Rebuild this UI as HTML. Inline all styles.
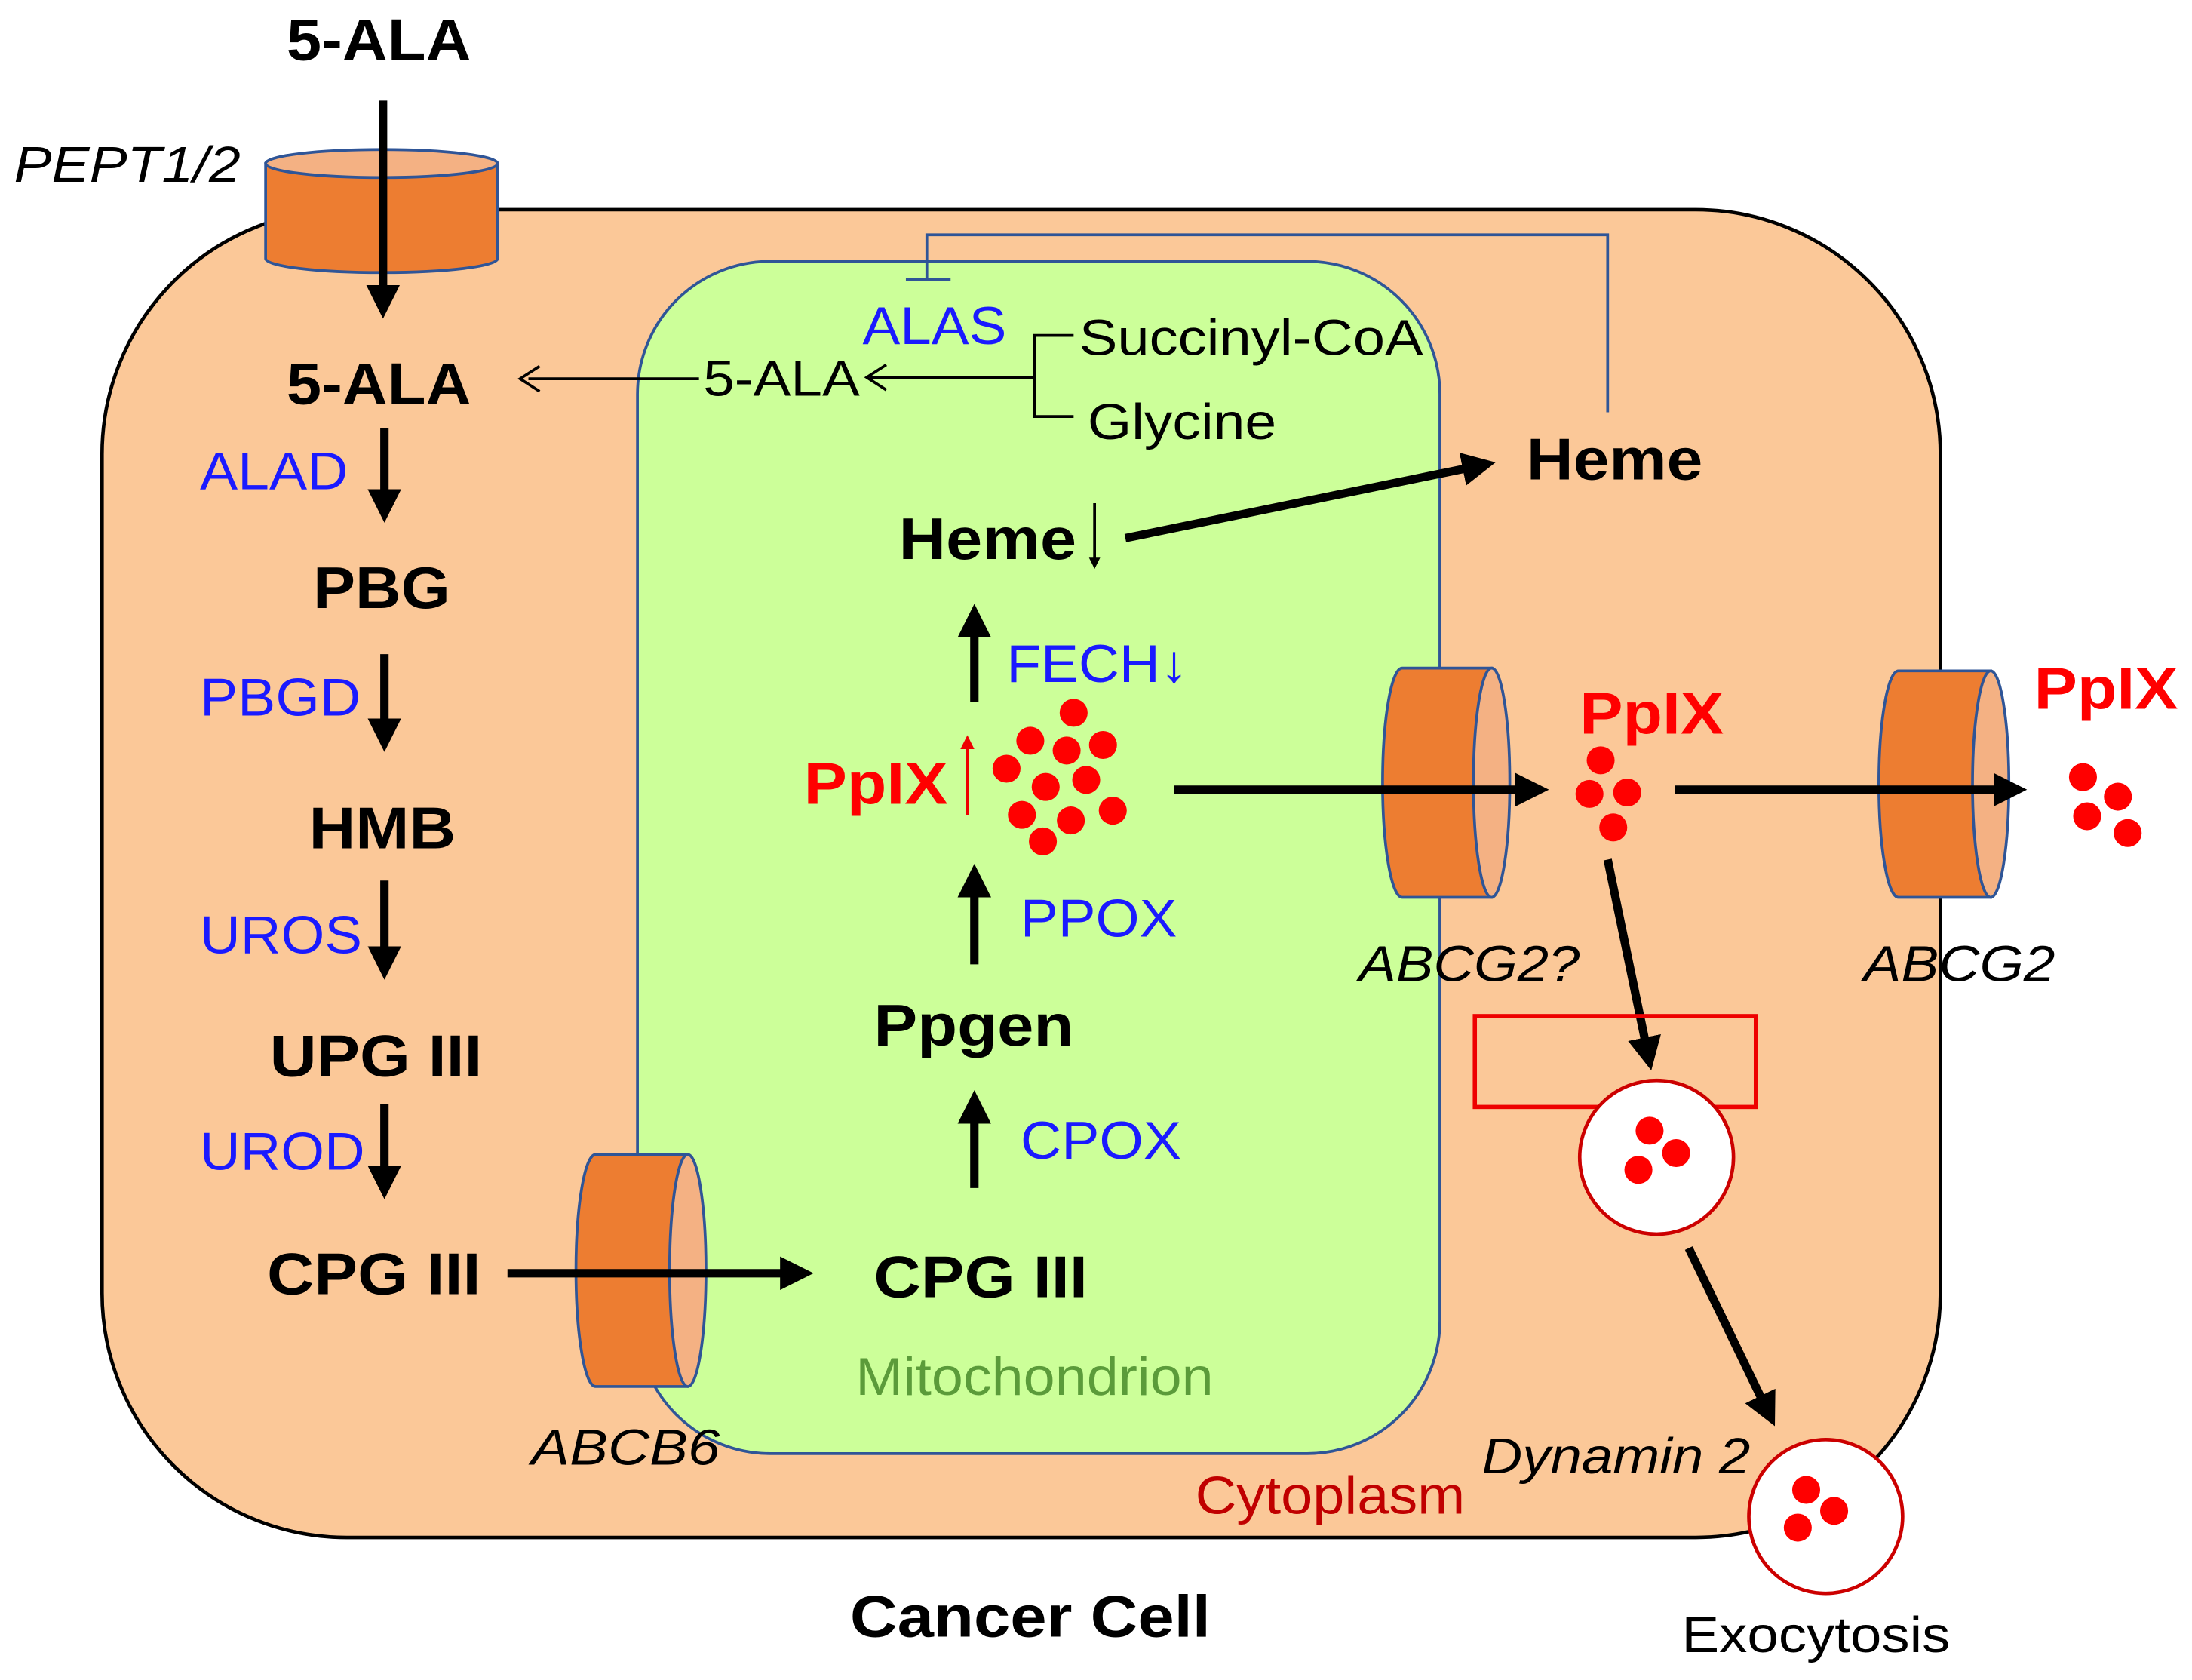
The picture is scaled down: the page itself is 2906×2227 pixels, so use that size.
<!DOCTYPE html>
<html><head><meta charset="utf-8"><style>html,body{margin:0;padding:0;background:#fff}svg{display:block}</style></head>
<body>
<svg width="2906" height="2227" viewBox="0 0 1568 1202" preserveAspectRatio="none" xmlns="http://www.w3.org/2000/svg" font-family="Liberation Sans, Arial, sans-serif">
<defs>
<marker id="ah" markerWidth="4" markerHeight="4" refX="3" refY="2" orient="auto" markerUnits="strokeWidth"><path d="M0,0 L4,2 L0,4 z" fill="#000"/></marker>
<marker id="ahr" markerWidth="5" markerHeight="5" refX="4" refY="2.5" orient="auto" markerUnits="strokeWidth"><path d="M0,0 L5,2.5 L0,5 z" fill="#e00"/></marker>
</defs>
<rect x="73" y="150" width="1315" height="950" rx="175" fill="#FBC898" stroke="#000" stroke-width="2.5"/>
<rect x="456" y="187" width="574" height="853" rx="95" fill="#CCFF99" stroke="#2F5597" stroke-width="2"/>
<path d="M190,117 L190,185 A83,10 0 0 0 356,185 L356,117 z" fill="#ED7D31" stroke="#2F5597" stroke-width="2"/>
<ellipse cx="273" cy="117" rx="83" ry="10" fill="#F4B183" stroke="#2F5597" stroke-width="2"/>
<g stroke="#2F5597" stroke-width="2">
<path d="M1067,478 L1003,478 A14,82 0 0 0 1003,642 L1067,642 z" fill="#ED7D31"/>
<ellipse cx="1067" cy="560" rx="13" ry="82" fill="#F4B183"/>
<path d="M1424,480 L1358,480 A14,81 0 0 0 1358,642 L1424,642 z" fill="#ED7D31"/>
<ellipse cx="1424" cy="561" rx="13" ry="81" fill="#F4B183"/>
<path d="M492,826 L426,826 A14,83 0 0 0 426,992 L492,992 z" fill="#ED7D31"/>
<ellipse cx="492" cy="909" rx="13" ry="83" fill="#F4B183"/>
</g>
<g stroke="#000" stroke-width="6" fill="none">
<line x1="274" y1="72" x2="274" y2="222" marker-end="url(#ah)"/>
<line x1="275" y1="306" x2="275" y2="368" marker-end="url(#ah)"/>
<line x1="275" y1="468" x2="275" y2="532" marker-end="url(#ah)"/>
<line x1="275" y1="630" x2="275" y2="695" marker-end="url(#ah)"/>
<line x1="275" y1="790" x2="275" y2="852" marker-end="url(#ah)"/>
<line x1="363" y1="911" x2="576" y2="911" marker-end="url(#ah)"/>
<line x1="697" y1="850" x2="697" y2="786" marker-end="url(#ah)"/>
<line x1="697" y1="690" x2="697" y2="624" marker-end="url(#ah)"/>
<line x1="697" y1="502" x2="697" y2="438" marker-end="url(#ah)"/>
<line x1="805" y1="385" x2="1064" y2="332" marker-end="url(#ah)"/>
<line x1="840" y1="565" x2="1102" y2="565" marker-end="url(#ah)"/>
<line x1="1198" y1="565" x2="1444" y2="565" marker-end="url(#ah)"/>
<line x1="1150" y1="615" x2="1180" y2="760" marker-end="url(#ah)"/>
<line x1="1208" y1="893" x2="1267" y2="1015" marker-end="url(#ah)"/>
</g>
<g stroke="#000" stroke-width="2" fill="none">
<line x1="783" y1="360" x2="783" y2="405" marker-end="url(#ah)"/>
<line x1="500" y1="271" x2="378" y2="271"/><path d="M386,262 L372,271 L386,280"/>
<line x1="740" y1="270" x2="622" y2="270"/><path d="M634,261 L620,270 L634,279"/>
<path d="M768,240 L740,240 L740,298 L768,298"/>
</g>
<line x1="692" y1="583" x2="692" y2="528" stroke="#e00" stroke-width="2" marker-end="url(#ahr)"/>
<path d="M1150,295 L1150,168 L663,168 L663,200 M648,200 L680,200" stroke="#2F5597" stroke-width="2" fill="none"/>
<rect x="1055" y="727" width="201" height="65" fill="none" stroke="#e00" stroke-width="3"/>
<circle cx="1185" cy="828" r="55" fill="#fff" stroke="#c00" stroke-width="2.5"/>
<circle cx="1306" cy="1085" r="55" fill="#fff" stroke="#c00" stroke-width="2.5"/>
<g fill="#f00">
<circle cx="768" cy="510" r="10"/><circle cx="737" cy="530" r="10"/><circle cx="763" cy="537" r="10"/><circle cx="789" cy="533" r="10"/>
<circle cx="720" cy="550" r="10"/><circle cx="748" cy="563" r="10"/><circle cx="777" cy="558" r="10"/><circle cx="731" cy="583" r="10"/>
<circle cx="766" cy="587" r="10"/><circle cx="796" cy="580" r="10"/><circle cx="746" cy="602" r="10"/>
<circle cx="1145" cy="544" r="10"/><circle cx="1137" cy="568" r="10"/><circle cx="1164" cy="567" r="10"/><circle cx="1154" cy="592" r="10"/>
<circle cx="1490" cy="556" r="10"/><circle cx="1515" cy="570" r="10"/><circle cx="1493" cy="584" r="10"/><circle cx="1522" cy="596" r="10"/>
<circle cx="1180" cy="809" r="10"/><circle cx="1199" cy="825" r="10"/><circle cx="1172" cy="837" r="10"/>
<circle cx="1292" cy="1066" r="10"/><circle cx="1312" cy="1081" r="10"/><circle cx="1286" cy="1093" r="10"/>
</g>
<g font-weight="bold" font-size="42" fill="#000" lengthAdjust="spacingAndGlyphs">
<text x="205" y="43" textLength="132" lengthAdjust="spacingAndGlyphs">5-ALA</text>
<text x="205" y="289" textLength="132" lengthAdjust="spacingAndGlyphs">5-ALA</text>
<text x="224" y="435" textLength="98" lengthAdjust="spacingAndGlyphs">PBG</text>
<text x="221" y="607" textLength="105" lengthAdjust="spacingAndGlyphs">HMB</text>
<text x="193" y="770" textLength="152" lengthAdjust="spacingAndGlyphs">UPG III</text>
<text x="191" y="926" textLength="153" lengthAdjust="spacingAndGlyphs">CPG III</text>
<text x="625" y="928" textLength="153" lengthAdjust="spacingAndGlyphs">CPG III</text>
<text x="625" y="748" textLength="143" lengthAdjust="spacingAndGlyphs">Ppgen</text>
<text x="643" y="400" textLength="127" lengthAdjust="spacingAndGlyphs">Heme</text>
<text x="1092" y="343" textLength="126" lengthAdjust="spacingAndGlyphs">Heme</text>
<text x="608" y="1171" textLength="258" lengthAdjust="spacingAndGlyphs">Cancer Cell</text>
</g>
<g font-weight="bold" font-size="42" fill="#f00">
<text x="575" y="575" textLength="103" lengthAdjust="spacingAndGlyphs">PpIX</text>
<text x="1130" y="525" textLength="103" lengthAdjust="spacingAndGlyphs">PpIX</text>
<text x="1455" y="507" textLength="103" lengthAdjust="spacingAndGlyphs">PpIX</text>
</g>
<g font-size="38" fill="#1a1aff">
<text x="143" y="350" textLength="106" lengthAdjust="spacingAndGlyphs">ALAD</text>
<text x="143" y="512" textLength="115" lengthAdjust="spacingAndGlyphs">PBGD</text>
<text x="143" y="682" textLength="116" lengthAdjust="spacingAndGlyphs">UROS</text>
<text x="143" y="837" textLength="118" lengthAdjust="spacingAndGlyphs">UROD</text>
<text x="730" y="829" textLength="115" lengthAdjust="spacingAndGlyphs">CPOX</text>
<text x="730" y="670" textLength="112" lengthAdjust="spacingAndGlyphs">PPOX</text>
<text x="720" y="488" textLength="130" lengthAdjust="spacingAndGlyphs">FECH↓</text>
<text x="617" y="246" textLength="103" lengthAdjust="spacingAndGlyphs">ALAS</text>
</g>
<g font-size="36" fill="#000">
<text x="503" y="283" textLength="112" lengthAdjust="spacingAndGlyphs">5-ALA</text>
<text x="772" y="254" textLength="246" lengthAdjust="spacingAndGlyphs">Succinyl-CoA</text>
<text x="778" y="314" textLength="135" lengthAdjust="spacingAndGlyphs">Glycine</text>
<text x="1203" y="1182" textLength="192" lengthAdjust="spacingAndGlyphs">Exocytosis</text>
</g>
<g font-size="36" font-style="italic" fill="#000">
<text x="10" y="130" textLength="162" lengthAdjust="spacingAndGlyphs">PEPT1/2</text>
<text x="972" y="702" textLength="158" lengthAdjust="spacingAndGlyphs">ABCG2?</text>
<text x="1333" y="702" textLength="137" lengthAdjust="spacingAndGlyphs">ABCG2</text>
<text x="380" y="1048" textLength="135" lengthAdjust="spacingAndGlyphs">ABCB6</text>
<text x="1060" y="1054" textLength="192" lengthAdjust="spacingAndGlyphs">Dynamin 2</text>
</g>
<text x="612" y="998" font-size="38" fill="#5b9b3a" textLength="256" lengthAdjust="spacingAndGlyphs">Mitochondrion</text>
<text x="855" y="1083" font-size="38" fill="#c00000" textLength="193" lengthAdjust="spacingAndGlyphs">Cytoplasm</text>
</svg>
</body></html>
